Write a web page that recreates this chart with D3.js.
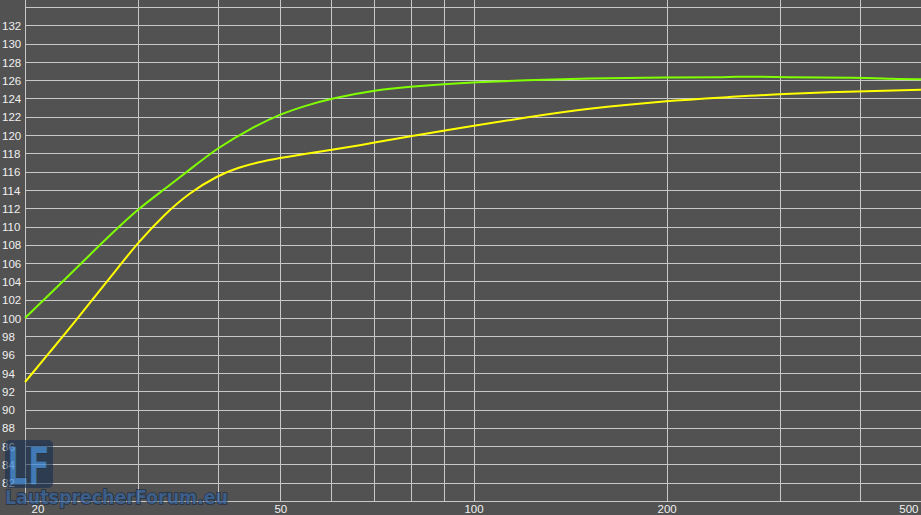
<!DOCTYPE html>
<html>
<head>
<meta charset="utf-8">
<script src="https://cdn.jsdelivr.net/npm/d3@7"></script>
<style>
  body { margin: 0; background: #525252; overflow: hidden; }
  svg { display: block; }
  .grid line { stroke: #c8c8c8; stroke-width: 1; shape-rendering: crispEdges; }
  .grid text { fill: #f0f0f0; font-family: "Liberation Sans", Arial, sans-serif; font-size: 11.5px; }
</style>
</head>
<body>
<script>
// frequency axis (Hz)
var gridFreqs = [20, 30, 40, 50, 60, 70, 80, 90, 100, 200, 300, 400, 500];
var labelFreqs = [20, 50, 100, 200, 500];
// level axis (dB)
var levelTicks = d3.range(80, 136, 2);

// curves
var freqA = [20, 22, 24, 26, 28, 30, 33, 36, 40, 45, 50, 55, 60, 70, 80, 90, 100, 120, 150, 200, 250, 270, 300, 400, 450, 500];
var green = [100, 102.8, 105.4, 107.8, 109.95, 111.9, 114.1, 116.15, 118.65, 120.75, 122.3, 123.25, 124.0, 124.9, 125.3, 125.57, 125.76, 126.0, 126.2, 126.3, 126.32, 126.42, 126.3, 126.3, 126.12, 126.1];

var freqB = [20, 22, 24, 26, 28, 30, 33, 36, 40, 43, 46, 50, 54, 60, 70, 80, 90, 100, 120, 150, 200, 250, 300, 400, 500];
var yellow = [93.0, 96.5, 99.7, 102.8, 105.6, 108.25, 111.35, 113.65, 115.6, 116.45, 117.0, 117.5, 117.9, 118.36, 119.16, 119.9, 120.5, 121.0, 121.9, 122.9, 123.75, 124.15, 124.5, 124.8, 124.95];

var width = 921, height = 515;
var left = 25, bottom = 501;

var x = d3.scaleLog().domain([20, 500]).range([left, 922]);
var y = d3.scaleLinear().domain([80, 134]).range([bottom, 7]);

var svg = d3.select("body").append("svg")
    .attr("width", width)
    .attr("height", height);

svg.append("rect")
   .attr("width", width).attr("height", height)
   .attr("fill", "#525252");

// horizontal grid + level labels
var yAxis = svg.append("g")
   .attr("class", "grid")
   .attr("transform", `translate(${left},0)`)
   .call(d3.axisLeft(y)
      .tickValues(levelTicks)
      .tickSize(-(width - left))
      .tickFormat(function(d) { return (d >= 82 && d <= 132) ? d : ""; }));
yAxis.select(".domain").remove();
yAxis.selectAll("text")
   .attr("x", -23)
   .attr("dy", "0.36em")
   .style("text-anchor", "start");

// vertical grid + frequency labels
var xAxis = svg.append("g")
   .attr("class", "grid")
   .attr("transform", `translate(0,${bottom})`)
   .call(d3.axisBottom(x)
      .tickValues(gridFreqs)
      .tickSize(-bottom)
      .tickPadding(4)
      .tickFormat(function(d) { return labelFreqs.indexOf(d) >= 0 ? d : ""; }));
xAxis.select(".domain").remove();
xAxis.selectAll("text")
   .style("text-anchor", function(d) { return d == 20 ? "start" : d == 500 ? "end" : "middle"; })
   .attr("x", function(d) { return d == 20 ? 6 : d == 500 ? -4 : 0; });

// axis frame lines
svg.append("line")
   .attr("x1", left).attr("x2", left).attr("y1", 0).attr("y2", bottom)
   .attr("stroke", "#c8c8c8").style("shape-rendering", "crispEdges");
svg.append("line")
   .attr("x1", left).attr("x2", width).attr("y1", bottom).attr("y2", bottom)
   .attr("stroke", "#c8c8c8").style("shape-rendering", "crispEdges");

function curve(fs, vs, color) {
  var line = d3.line()
      .x(function(d, i) { return x(fs[i]); })
      .y(function(d) { return y(d); })
      .curve(d3.curveBasis);
  svg.append("path")
     .attr("d", line(vs))
     .attr("fill", "none")
     .attr("stroke", color)
     .attr("stroke-width", 2);
}
curve(freqB, yellow, "#ffff00");
curve(freqA, green, "#80ff00");

// watermark (translucent, labels show through)
var wm = svg.append("g").attr("opacity", 0.75);
wm.append("rect")
  .attr("x", 5).attr("y", 440).attr("width", 48).attr("height", 48).attr("rx", 5)
  .attr("fill", "#112c50").attr("opacity", 0.75);
wm.append("text")
  .attr("x", 7).attr("y", 485)
  .attr("font-family", "DejaVu Sans, sans-serif")
  .attr("font-weight", "bold")
  .attr("font-size", 54)
  .attr("textLength", 43)
  .attr("lengthAdjust", "spacingAndGlyphs")
  .attr("fill", "#3c88d6")
  .attr("stroke", "#1b2d44")
  .attr("stroke-width", 1)
  .text("LF");
wm.append("text")
  .attr("x", 5).attr("y", 504)
  .attr("font-family", "DejaVu Sans, sans-serif")
  .attr("font-weight", "bold")
  .attr("font-size", 19)
  .attr("textLength", 223)
  .attr("lengthAdjust", "spacingAndGlyphs")
  .attr("fill", "#36639a")
  .attr("stroke", "#15243a")
  .attr("stroke-width", 1.6)
  .attr("paint-order", "stroke")
  .text("LautsprecherForum.eu");
</script>
</body>
</html>
